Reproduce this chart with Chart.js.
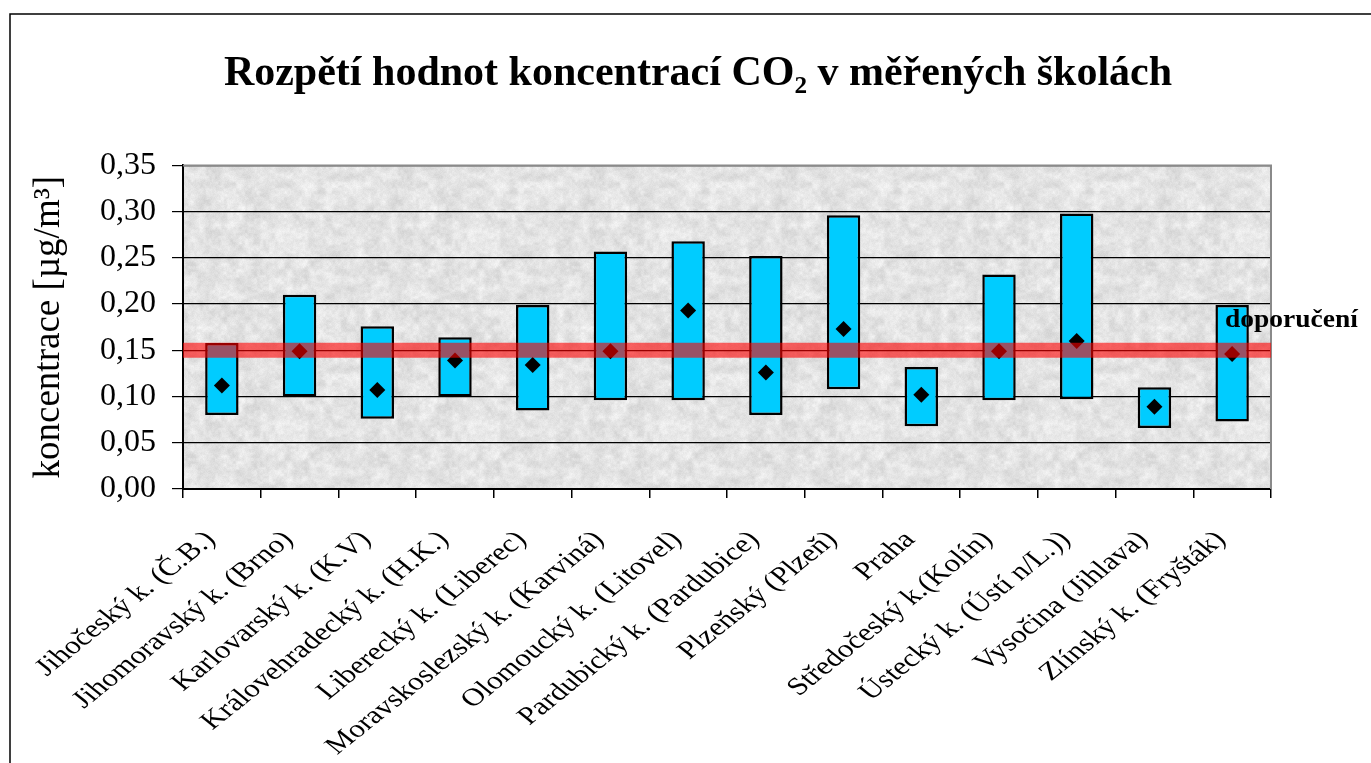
<!DOCTYPE html>
<html lang="cs">
<head>
<meta charset="utf-8">
<title>Rozpětí hodnot koncentrací CO₂</title>
<script src="https://cdn.jsdelivr.net/npm/chart.js@4.4.1/dist/chart.umd.min.js"></script>
<style>
  html, body { margin: 0; padding: 0; background: #fff; }
  #wrap { width: 1371px; height: 763px; position: relative; }
</style>
</head>
<body>
<div id="wrap"><canvas id="graf" width="1371" height="763"></canvas></div>
<script>
// Kraje (kategorie osy x)
const kraje = [
  'Jihočeský k. (Č.B.)',
  'Jihomoravský k. (Brno)',
  'Karlovarský k. (K.V)',
  'Královehradecký k. (H.K.)',
  'Liberecký k. (Liberec)',
  'Moravskoslezský k. (Karviná)',
  'Olomoucký k. (Litovel)',
  'Pardubický k. (Pardubice)',
  'Plzeňský (Plzeň)',
  'Praha',
  'Středočeský k.(Kolín)',
  'Ústecký k. (Ústí n/L.))',
  'Vysočina (Jihlava)',
  'Zlínský k. (Fryšták)'
];

// Minimální a maximální naměřená koncentrace [µg/m³]
const minima = [0.080, 0.100, 0.076, 0.100, 0.085, 0.096, 0.096, 0.080, 0.108, 0.068, 0.096, 0.097, 0.066, 0.073];
const maxima = [0.158, 0.210, 0.176, 0.164, 0.199, 0.257, 0.268, 0.252, 0.296, 0.132, 0.232, 0.298, 0.110, 0.199];

// Průměrná koncentrace
const prumery = [0.112, 0.149, 0.107, 0.139, 0.134, 0.149, 0.193, 0.126, 0.173, 0.102, 0.149, 0.160, 0.089, 0.146];

// Doporučená hodnota
const doporuceni = 0.15;

// Popisky osy y
const osaY = [0, 0.05, 0.10, 0.15, 0.20, 0.25, 0.30, 0.35];

const nadpis = 'Rozpětí hodnot koncentrací CO\u2082 v měřených školách';
const popisOsyY = 'koncentrace [µg/m³]';
const popisDoporuceni = 'doporučení';

const PISMO = '"Liberation Serif", "Times New Roman", serif';
const ROZTAZENI = 1.25;   // vodorovné roztažení popisků kategorií

// Jemná „žulová“ výplň plochy grafu (deterministický šum)
function hash(x, y, s) {
  let h = (x * 374761393 + y * 668265263 + s * 982451653) | 0;
  h = Math.imul(h ^ (h >>> 13), 1274126177);
  h = h ^ (h >>> 16);
  return (h >>> 0) / 4294967296;
}
function sumVrstva(x, y, bunka, n, s) {
  const gx = x / bunka, gy = y / bunka;
  const x0 = Math.floor(gx), y0 = Math.floor(gy);
  const fx = gx - x0, fy = gy - y0;
  const sx = fx * fx * (3 - 2 * fx), sy = fy * fy * (3 - 2 * fy);
  const v = (i, j) => hash(((i % n) + n) % n, ((j % n) + n) % n, s);
  const a = v(x0, y0), b = v(x0 + 1, y0), c = v(x0, y0 + 1), d = v(x0 + 1, y0 + 1);
  return (a * (1 - sx) + b * sx) * (1 - sy) + (c * (1 - sx) + d * sx) * sy;
}
function zulovyVzor(ctx) {
  const N = 192;
  const t = document.createElement('canvas');
  t.width = t.height = N;
  const g = t.getContext('2d');
  const img = g.createImageData(N, N);
  for (let y = 0; y < N; y++) {
    for (let x = 0; x < N; x++) {
      const v = 227
        + (sumVrstva(x, y, 8, N / 8, 1) - 0.5) * 22
        + (sumVrstva(x, y, 3, N / 3, 2) - 0.5) * 14
        + (hash(x, y, 3) - 0.5) * 8;
      const k = (y * N + x) * 4;
      img.data[k] = img.data[k + 1] = img.data[k + 2] = Math.max(0, Math.min(255, v));
      img.data[k + 3] = 255;
    }
  }
  g.putImageData(img, 0, 0);
  return ctx.createPattern(t, 'repeat');
}

const plochaPlugin = {
  id: 'plocha',
  beforeDraw(chart) {
    const { ctx, chartArea: a } = chart;
    ctx.save();
    ctx.fillStyle = chart.$vzor || (chart.$vzor = zulovyVzor(ctx));
    ctx.fillRect(a.left, a.top, a.right - a.left, a.bottom - a.top);
    // rámeček celého grafu
    ctx.strokeStyle = '#000';
    ctx.lineWidth = 1.5;
    ctx.strokeRect(10, 14, 1400, 800);
    ctx.restore();
  },
  beforeDatasetsDraw(chart) {
    const { ctx, chartArea: a } = chart;
    ctx.save();
    ctx.strokeStyle = '#8a8a8a';
    ctx.lineWidth = 2;
    ctx.beginPath();
    ctx.moveTo(a.left, a.top);
    ctx.lineTo(a.right, a.top);
    ctx.lineTo(a.right, a.bottom);
    ctx.stroke();
    ctx.restore();
  },
  afterDatasetsDraw(chart) {
    const { ctx, chartArea: a, scales } = chart;
    const y = scales.y.getPixelForValue(doporuceni);
    ctx.save();
    // pás doporučené hodnoty
    ctx.strokeStyle = 'rgba(255, 0, 0, 0.6)';
    ctx.lineWidth = 15;
    ctx.beginPath();
    ctx.moveTo(a.left, y);
    ctx.lineTo(a.right, y);
    ctx.stroke();
    // popisek doporučené hodnoty
    ctx.fillStyle = '#000';
    ctx.font = 'bold 25px ' + PISMO;
    ctx.textBaseline = 'alphabetic';
    ctx.textAlign = 'left';
    ctx.translate(a.right - 46, y - 23);
    ctx.scale(1.1, 1);
    ctx.fillText(popisDoporuceni, 0, 0);
    ctx.restore();
  },
  afterDraw(chart) {
    // šikmé popisky kategorií pod osou x
    const { ctx, scales } = chart;
    const sx = scales.x;
    const y0 = sx.top + 47;
    ctx.save();
    ctx.fillStyle = '#000';
    ctx.font = '25px ' + PISMO;
    ctx.textAlign = 'right';
    ctx.textBaseline = 'middle';
    kraje.forEach((k, i) => {
      const x = sx.getPixelForValue(i) - 11;
      ctx.save();
      ctx.translate(x, y0);
      ctx.scale(ROZTAZENI, 1);
      ctx.rotate(-Math.PI / 4);
      ctx.fillText(k, 0, 0);
      ctx.restore();
    });
    ctx.restore();
  }
};

function vytvorGraf() {
  const ctx = document.getElementById('graf').getContext('2d');
  new Chart(ctx, {
    data: {
      labels: kraje,
      datasets: [
        {
          type: 'line',
          label: 'průměr',
          data: prumery,
          showLine: false,
          pointStyle: 'rectRot',
          pointRadius: 8,
          pointBackgroundColor: '#000',
          pointBorderColor: '#000',
          pointBorderWidth: 0,
          order: 0
        },
        {
          type: 'bar',
          label: 'rozpětí',
          data: minima.map((m, i) => [m, maxima[i]]),
          backgroundColor: '#00CCFF',
          borderColor: '#000',
          borderWidth: 2.5,
          borderSkipped: false,
          barPercentage: 0.43,
          categoryPercentage: 1,
          order: 1
        }
      ]
    },
    options: {
      responsive: false,
      devicePixelRatio: 1,
      animation: false,
      layout: { padding: { left: 25, right: 0, top: 0, bottom: 0 } },
      plugins: {
        legend: { display: false },
        tooltip: { enabled: false },
        title: {
          display: true,
          text: nadpis,
          color: '#000',
          font: { family: PISMO, size: 42, weight: 'bold' },
          padding: { top: 49, bottom: 66 }
        }
      },
      scales: {
        x: {
          offset: true,
          grid: { display: true, drawOnChartArea: false, drawTicks: true, tickLength: 9, color: '#000', lineWidth: 1.5, offset: true },
          border: { display: true, color: '#000', width: 2 },
          ticks: { display: false, autoSkip: false },
          afterFit(s) { s.height = 274; }
        },
        y: {
          min: 0,
          max: 0.35,
          afterBuildTicks(s) { s.ticks = osaY.map(v => ({ value: v })); },
          ticks: {
            color: '#000',
            padding: 16,
            font: { family: PISMO, size: 32 },
            callback: v => Number(v).toFixed(2).replace('.', ',')
          },
          grid: { color: '#000', lineWidth: 1.2, tickLength: 11, drawTicks: true },
          border: { display: true, color: '#000', width: 2 },
          title: {
            display: true,
            text: popisOsyY,
            color: '#000',
            font: { family: PISMO, size: 37 },
            padding: { top: 2, bottom: 0 }
          },
          afterFit(s) { s.width = 158; }
        },
        yR: {
          position: 'right',
          display: true,
          grid: { display: false },
          ticks: { display: false },
          border: { display: false },
          afterFit(s) { s.width = 100; }
        }
      }
    },
    plugins: [plochaPlugin]
  });
}

if (document.fonts && document.fonts.load) {
  Promise.all([
    document.fonts.load('bold 42px "Liberation Serif"'),
    document.fonts.load('25px "Liberation Serif"')
  ]).then(vytvorGraf, vytvorGraf);
} else {
  vytvorGraf();
}
</script>
</body>
</html>
